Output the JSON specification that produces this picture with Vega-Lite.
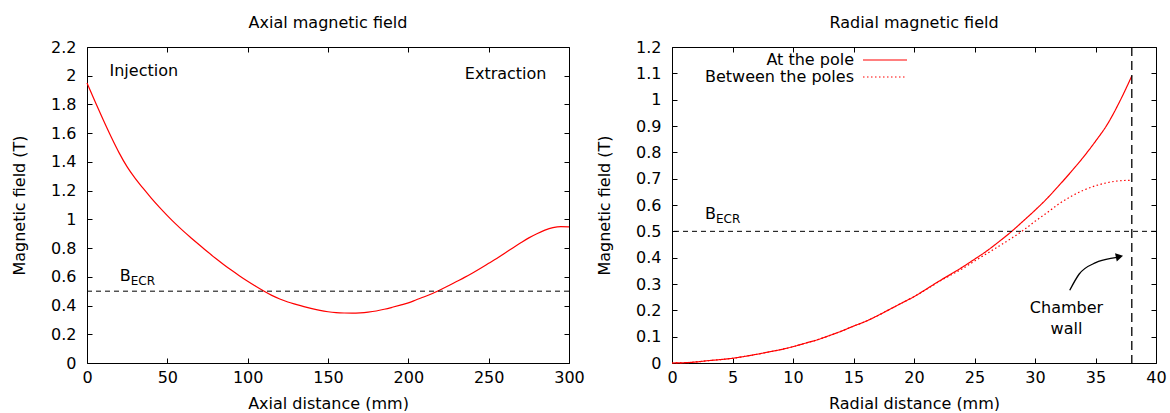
{
  "$schema": "https://vega.github.io/schema/vega-lite/v6.json",
  "padding": {"left": 11, "top": 15, "right": 5, "bottom": 0},
  "bounds": "flush",
  "spacing": 103,
  "config": {
    "font": "DejaVu Sans",
    "view": {"stroke": null},
    "axis": {
      "domainColor": "black", "tickColor": "black", "labelColor": "black", "titleColor": "black",
      "labelFont": "DejaVu Sans", "titleFont": "DejaVu Sans", "labelFontSize": 16, "titleFontSize": 16,
      "titleFontWeight": "normal", "grid": false, "tickSize": -5, "labelPadding": 16, "labelFlush": false,
      "labelOverlap": false, "domainWidth": 1, "tickWidth": 1
    },
    "axisY": {"titlePadding": 23.5},
    "axisX": {"titlePadding": 10, "labelPadding": 11},
    "title": {"fontSize": 16, "fontWeight": "normal", "anchor": "middle", "offset": 8, "color": "black", "font": "DejaVu Sans"},
    "text": {"font": "DejaVu Sans", "fontSize": 16, "color": "black"}
  },
  "datasets": {
    "axial": [
      {"z": 0, "B": 1.95}, {"z": 5, "B": 1.82}, {"z": 10, "B": 1.695}, {"z": 15, "B": 1.575}, {"z": 20, "B": 1.463},
      {"z": 25, "B": 1.365}, {"z": 30, "B": 1.285}, {"z": 35, "B": 1.215}, {"z": 40, "B": 1.148}, {"z": 45, "B": 1.085},
      {"z": 50, "B": 1.026}, {"z": 55, "B": 0.97}, {"z": 60, "B": 0.918}, {"z": 65, "B": 0.869}, {"z": 70, "B": 0.821},
      {"z": 75, "B": 0.774}, {"z": 80, "B": 0.729}, {"z": 85, "B": 0.686}, {"z": 90, "B": 0.645}, {"z": 95, "B": 0.606},
      {"z": 100, "B": 0.569}, {"z": 105, "B": 0.534}, {"z": 110, "B": 0.501}, {"z": 115, "B": 0.471}, {"z": 120, "B": 0.446},
      {"z": 125, "B": 0.425}, {"z": 130, "B": 0.408}, {"z": 135, "B": 0.392}, {"z": 140, "B": 0.378}, {"z": 145, "B": 0.366},
      {"z": 150, "B": 0.357}, {"z": 155, "B": 0.351}, {"z": 160, "B": 0.348}, {"z": 165, "B": 0.347}, {"z": 170, "B": 0.349},
      {"z": 175, "B": 0.354}, {"z": 180, "B": 0.362}, {"z": 185, "B": 0.374}, {"z": 190, "B": 0.388}, {"z": 195, "B": 0.403},
      {"z": 200, "B": 0.419}, {"z": 205, "B": 0.44}, {"z": 210, "B": 0.461}, {"z": 215, "B": 0.484}, {"z": 220, "B": 0.51},
      {"z": 225, "B": 0.538}, {"z": 230, "B": 0.567}, {"z": 235, "B": 0.596}, {"z": 240, "B": 0.627}, {"z": 245, "B": 0.66},
      {"z": 250, "B": 0.694}, {"z": 255, "B": 0.728}, {"z": 260, "B": 0.764}, {"z": 265, "B": 0.801}, {"z": 270, "B": 0.837},
      {"z": 275, "B": 0.871}, {"z": 280, "B": 0.9}, {"z": 285, "B": 0.925}, {"z": 290, "B": 0.942}, {"z": 295, "B": 0.949},
      {"z": 300, "B": 0.947}
    ],
    "radial": [
      {"r": 0, "B": 0, "series": "At the pole"}, {"r": 1, "B": 0.001, "series": "At the pole"}, {"r": 2, "B": 0.004, "series": "At the pole"},
      {"r": 3, "B": 0.009, "series": "At the pole"}, {"r": 4, "B": 0.013, "series": "At the pole"}, {"r": 5, "B": 0.018, "series": "At the pole"},
      {"r": 6, "B": 0.025, "series": "At the pole"}, {"r": 7, "B": 0.033, "series": "At the pole"}, {"r": 8, "B": 0.042, "series": "At the pole"},
      {"r": 9, "B": 0.051, "series": "At the pole"}, {"r": 10, "B": 0.062, "series": "At the pole"}, {"r": 11, "B": 0.075, "series": "At the pole"},
      {"r": 12, "B": 0.088, "series": "At the pole"}, {"r": 13, "B": 0.104, "series": "At the pole"}, {"r": 14, "B": 0.121, "series": "At the pole"},
      {"r": 15, "B": 0.14, "series": "At the pole"}, {"r": 16, "B": 0.158, "series": "At the pole"}, {"r": 17, "B": 0.18, "series": "At the pole"},
      {"r": 18, "B": 0.204, "series": "At the pole"}, {"r": 19, "B": 0.228, "series": "At the pole"}, {"r": 20, "B": 0.252, "series": "At the pole"},
      {"r": 21, "B": 0.28, "series": "At the pole"}, {"r": 22, "B": 0.309, "series": "At the pole"}, {"r": 23, "B": 0.336, "series": "At the pole"},
      {"r": 24, "B": 0.364, "series": "At the pole"}, {"r": 25, "B": 0.394, "series": "At the pole"}, {"r": 26, "B": 0.425, "series": "At the pole"},
      {"r": 27, "B": 0.46, "series": "At the pole"}, {"r": 28, "B": 0.497, "series": "At the pole"}, {"r": 29, "B": 0.538, "series": "At the pole"},
      {"r": 30, "B": 0.58, "series": "At the pole"}, {"r": 31, "B": 0.625, "series": "At the pole"}, {"r": 32, "B": 0.675, "series": "At the pole"},
      {"r": 33, "B": 0.727, "series": "At the pole"}, {"r": 34, "B": 0.782, "series": "At the pole"}, {"r": 35, "B": 0.842, "series": "At the pole"},
      {"r": 36, "B": 0.908, "series": "At the pole"}, {"r": 37, "B": 0.993, "series": "At the pole"}, {"r": 38, "B": 1.09, "series": "At the pole"},
      {"r": 0, "B": 0, "series": "Between the poles"}, {"r": 1, "B": 0.001, "series": "Between the poles"}, {"r": 2, "B": 0.004, "series": "Between the poles"},
      {"r": 3, "B": 0.009, "series": "Between the poles"}, {"r": 4, "B": 0.013, "series": "Between the poles"}, {"r": 5, "B": 0.018, "series": "Between the poles"},
      {"r": 6, "B": 0.025, "series": "Between the poles"}, {"r": 7, "B": 0.033, "series": "Between the poles"}, {"r": 8, "B": 0.042, "series": "Between the poles"},
      {"r": 9, "B": 0.051, "series": "Between the poles"}, {"r": 10, "B": 0.062, "series": "Between the poles"}, {"r": 11, "B": 0.075, "series": "Between the poles"},
      {"r": 12, "B": 0.088, "series": "Between the poles"}, {"r": 13, "B": 0.104, "series": "Between the poles"}, {"r": 14, "B": 0.121, "series": "Between the poles"},
      {"r": 15, "B": 0.14, "series": "Between the poles"}, {"r": 16, "B": 0.158, "series": "Between the poles"}, {"r": 17, "B": 0.18, "series": "Between the poles"},
      {"r": 18, "B": 0.204, "series": "Between the poles"}, {"r": 19, "B": 0.228, "series": "Between the poles"}, {"r": 20, "B": 0.252, "series": "Between the poles"},
      {"r": 21, "B": 0.279, "series": "Between the poles"}, {"r": 22, "B": 0.307, "series": "Between the poles"}, {"r": 23, "B": 0.333, "series": "Between the poles"},
      {"r": 24, "B": 0.358, "series": "Between the poles"}, {"r": 25, "B": 0.387, "series": "Between the poles"}, {"r": 26, "B": 0.415, "series": "Between the poles"},
      {"r": 27, "B": 0.443, "series": "Between the poles"}, {"r": 28, "B": 0.472, "series": "Between the poles"}, {"r": 29, "B": 0.503, "series": "Between the poles"},
      {"r": 30, "B": 0.538, "series": "Between the poles"}, {"r": 31, "B": 0.571, "series": "Between the poles"}, {"r": 32, "B": 0.605, "series": "Between the poles"},
      {"r": 33, "B": 0.633, "series": "Between the poles"}, {"r": 34, "B": 0.656, "series": "Between the poles"}, {"r": 35, "B": 0.673, "series": "Between the poles"},
      {"r": 36, "B": 0.685, "series": "Between the poles"}, {"r": 37, "B": 0.692, "series": "Between the poles"}, {"r": 38, "B": 0.694, "series": "Between the poles"}
    ],
    "arrow": [
      {"r": 32.87, "B": 0.276}, {"r": 33.64, "B": 0.337}, {"r": 35.02, "B": 0.381}, {"r": 36.39, "B": 0.398}, {"r": 37.0, "B": 0.402}
    ]
  },
  "hconcat": [
    {
      "width": 482,
      "height": 316,
      "title": {"text": "Axial magnetic field"},
      "layer": [
        {
          "data": {"name": "axial"},
          "mark": {"type": "line", "color": "#ff0000", "strokeWidth": 1.2, "interpolate": "monotone"},
          "encoding": {
            "x": {"field": "z", "type": "quantitative", "scale": {"domain": [0, 300], "nice": false, "zero": false},
                  "axis": {"title": "Axial distance (mm)", "orient": "bottom", "values": [0, 50, 100, 150, 200, 250, 300]}},
            "y": {"field": "B", "type": "quantitative", "scale": {"domain": [0, 2.2], "nice": false},
                  "axis": {"title": "Magnetic field (T)", "orient": "left", "format": "~g", "values": [0, 0.2, 0.4, 0.6, 0.8, 1, 1.2, 1.4, 1.6, 1.8, 2, 2.2]}}
          }
        },
        {
          "data": {"values": [{"B": 0.5}]},
          "mark": {"type": "rule", "color": "black", "strokeWidth": 1, "strokeDash": [5, 4]},
          "encoding": {"y": {"field": "B", "type": "quantitative", "axis": null}}
        },
        {
          "data": {"values": [{"z": 14, "B": 1.995, "label": "Injection"}]},
          "mark": {"type": "text", "align": "left", "baseline": "alphabetic"},
          "encoding": {
            "x": {"field": "z", "type": "quantitative", "axis": {"orient": "top", "labels": false, "title": null, "values": [0, 50, 100, 150, 200, 250, 300]}},
            "y": {"field": "B", "type": "quantitative", "axis": {"orient": "right", "labels": false, "title": null, "values": [0, 0.2, 0.4, 0.6, 0.8, 1, 1.2, 1.4, 1.6, 1.8, 2, 2.2]}},
            "text": {"field": "label"}
          }
        },
        {
          "data": {"values": [{"z": 286, "B": 1.975, "label": "Extraction"}]},
          "mark": {"type": "text", "align": "right", "baseline": "alphabetic"},
          "encoding": {
            "x": {"field": "z", "type": "quantitative", "axis": null},
            "y": {"field": "B", "type": "quantitative", "axis": null},
            "text": {"field": "label"}
          }
        },
        {
          "data": {"values": [{"z": 20.4, "B": 0.569, "label": "B"}]},
          "mark": {"type": "text", "align": "left", "baseline": "alphabetic"},
          "encoding": {
            "x": {"field": "z", "type": "quantitative", "axis": null},
            "y": {"field": "B", "type": "quantitative", "axis": null},
            "text": {"field": "label"}
          }
        },
        {
          "data": {"values": [{"z": 20.4, "B": 0.569, "label": "ECR"}]},
          "mark": {"type": "text", "align": "left", "baseline": "alphabetic", "fontSize": 12, "dx": 11, "dy": 4},
          "encoding": {
            "x": {"field": "z", "type": "quantitative", "axis": null},
            "y": {"field": "B", "type": "quantitative", "axis": null},
            "text": {"field": "label"}
          }
        }
      ],
      "resolve": {"axis": {"x": "independent", "y": "independent"}}
    },
    {
      "width": 484,
      "height": 316,
      "title": {"text": "Radial magnetic field"},
      "layer": [
        {
          "data": {"name": "radial"},
          "mark": {"type": "line", "color": "#ff0000", "strokeWidth": 1.2, "interpolate": "monotone"},
          "encoding": {
            "x": {"field": "r", "type": "quantitative", "scale": {"domain": [0, 40], "nice": false, "zero": false},
                  "axis": {"title": "Radial distance (mm)", "orient": "bottom", "values": [0, 5, 10, 15, 20, 25, 30, 35, 40]}},
            "y": {"field": "B", "type": "quantitative", "scale": {"domain": [0, 1.2], "nice": false},
                  "axis": {"title": "Magnetic field (T)", "orient": "left", "format": "~g", "values": [0, 0.1, 0.2, 0.3, 0.4, 0.5, 0.6, 0.7, 0.8, 0.9, 1, 1.1, 1.2]}},
            "strokeDash": {
              "field": "series", "type": "nominal",
              "scale": {"domain": ["At the pole", "Between the poles"], "range": [[1, 0], [1.5, 2.5]]},
              "legend": {
                "title": null, "orient": "none", "legendX": 610, "legendY": 5,
                "symbolType": "M-4,0H4", "symbolSize": 121, "symbolStrokeColor": "#ff0000", "symbolStrokeWidth": 1.2,
                "symbolFillColor": "transparent", "labelAlign": "right", "labelOffset": -39, "symbolOffset": 180,
                "labelFontSize": 16, "labelFont": "DejaVu Sans", "labelColor": "black", "rowPadding": 1, "padding": 0,
                "encode": {"symbols": {"update": {"stroke": {"value": "#ff0000"}, "strokeWidth": {"value": 1.2}}}}
              }
            }
          }
        },
        {
          "data": {"values": [{"B": 0.5}]},
          "mark": {"type": "rule", "color": "black", "strokeWidth": 1, "strokeDash": [5, 4]},
          "encoding": {"y": {"field": "B", "type": "quantitative", "axis": null}}
        },
        {
          "data": {"values": [{"r": 38}]},
          "mark": {"type": "rule", "color": "black", "strokeWidth": 1.3, "strokeDash": [9, 5]},
          "encoding": {"x": {"field": "r", "type": "quantitative", "axis": null}}
        },
        {
          "data": {"values": [{"r": 32.6, "B": 0.191, "label": "Chamber"}, {"r": 32.6, "B": 0.109, "label": "wall"}]},
          "mark": {"type": "text", "align": "center", "baseline": "alphabetic"},
          "encoding": {
            "x": {"field": "r", "type": "quantitative", "axis": {"orient": "top", "labels": false, "title": null, "values": [0, 5, 10, 15, 20, 25, 30, 35, 40]}},
            "y": {"field": "B", "type": "quantitative", "axis": {"orient": "right", "labels": false, "title": null, "values": [0, 0.1, 0.2, 0.3, 0.4, 0.5, 0.6, 0.7, 0.8, 0.9, 1, 1.1, 1.2]}},
            "text": {"field": "label"}
          }
        },
        {
          "data": {"name": "arrow"},
          "mark": {"type": "line", "color": "black", "strokeWidth": 1.3, "interpolate": "monotone"},
          "encoding": {
            "x": {"field": "r", "type": "quantitative", "axis": null},
            "y": {"field": "B", "type": "quantitative", "axis": null}
          }
        },
        {
          "data": {"values": [{"r": 36.98, "B": 0.404}]},
          "mark": {"type": "point", "shape": "triangle-right", "filled": true, "color": "black", "size": 70, "angle": -12, "opacity": 1},
          "encoding": {
            "x": {"field": "r", "type": "quantitative", "axis": null},
            "y": {"field": "B", "type": "quantitative", "axis": null}
          }
        },
        {
          "data": {"values": [{"r": 2.73, "B": 0.546, "label": "B"}]},
          "mark": {"type": "text", "align": "left", "baseline": "alphabetic"},
          "encoding": {
            "x": {"field": "r", "type": "quantitative", "axis": null},
            "y": {"field": "B", "type": "quantitative", "axis": null},
            "text": {"field": "label"}
          }
        },
        {
          "data": {"values": [{"r": 2.73, "B": 0.546, "label": "ECR"}]},
          "mark": {"type": "text", "align": "left", "baseline": "alphabetic", "fontSize": 12, "dx": 11, "dy": 4},
          "encoding": {
            "x": {"field": "r", "type": "quantitative", "axis": null},
            "y": {"field": "B", "type": "quantitative", "axis": null},
            "text": {"field": "label"}
          }
        }
      ],
      "resolve": {"axis": {"x": "independent", "y": "independent"}}
    }
  ]
}
